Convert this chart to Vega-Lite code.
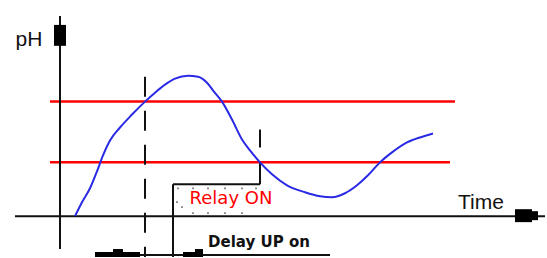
{
  "$schema": "https://vega.github.io/schema/vega-lite/v6.json",
  "width": 547,
  "height": 258,
  "padding": 0,
  "autosize": {"type": "fit", "contains": "padding"},
  "background": "white",
  "config": {"view": {"stroke": null}},
  "datasets": {
    "curve": [
      {"t": 75, "ph": 217}, {"t": 82, "ph": 203}, {"t": 90, "ph": 189}, {"t": 97, "ph": 172},
      {"t": 103, "ph": 156}, {"t": 110, "ph": 141}, {"t": 120, "ph": 128}, {"t": 132, "ph": 115},
      {"t": 145, "ph": 102}, {"t": 155, "ph": 93}, {"t": 165, "ph": 85}, {"t": 175, "ph": 79},
      {"t": 188, "ph": 76}, {"t": 198, "ph": 77}, {"t": 207, "ph": 83}, {"t": 214, "ph": 92},
      {"t": 222, "ph": 102}, {"t": 232, "ph": 120}, {"t": 242, "ph": 140}, {"t": 250, "ph": 151},
      {"t": 260, "ph": 163}, {"t": 272, "ph": 175}, {"t": 287, "ph": 186}, {"t": 305, "ph": 193},
      {"t": 320, "ph": 197}, {"t": 332, "ph": 198}, {"t": 345, "ph": 194}, {"t": 357, "ph": 186},
      {"t": 368, "ph": 176}, {"t": 380, "ph": 163}, {"t": 392, "ph": 153}, {"t": 407, "ph": 143},
      {"t": 420, "ph": 138}, {"t": 433, "ph": 134}
    ],
    "red": [
      {"x": 50, "x2": 455, "y": 102, "y2": 102},
      {"x": 50, "x2": 450, "y": 163, "y2": 163}
    ],
    "black": [
      {"x": 60, "x2": 60, "y": 16, "y2": 250},
      {"x": 15, "x2": 545, "y": 217, "y2": 217},
      {"x": 260, "x2": 260, "y": 130, "y2": 148},
      {"x": 260, "x2": 260, "y": 163, "y2": 185},
      {"x": 173, "x2": 260, "y": 185, "y2": 185},
      {"x": 173, "x2": 173, "y": 185, "y2": 258},
      {"x": 95, "x2": 330, "y": 256, "y2": 256}
    ],
    "dashed": [
      {"x": 145, "x2": 145, "y": 77, "y2": 258}
    ],
    "blocks": [
      {"x": 54, "x2": 66, "y": 25, "y2": 46},
      {"x": 515, "x2": 532, "y": 210, "y2": 223},
      {"x": 532, "x2": 538, "y": 212, "y2": 221},
      {"x": 95, "x2": 140, "y": 253, "y2": 258},
      {"x": 113, "x2": 123, "y": 250, "y2": 258},
      {"x": 183, "x2": 203, "y": 253, "y2": 258},
      {"x": 195, "x2": 203, "y": 250, "y2": 258}
    ],
    "dots": [
      {"x": 178, "y": 189}, {"x": 193, "y": 189}, {"x": 208, "y": 189}, {"x": 225, "y": 189},
      {"x": 242, "y": 189}, {"x": 256, "y": 189},
      {"x": 193, "y": 214}, {"x": 208, "y": 214}, {"x": 225, "y": 214}, {"x": 242, "y": 214},
      {"x": 177, "y": 203}, {"x": 182, "y": 208}
    ],
    "labels": [
      {"x": 29, "y": 40, "text": "pH"},
      {"x": 481, "y": 204, "text": "Time"}
    ]
  },
  "encoding": {},
  "layer": [
    {
      "data": {"name": "red"},
      "mark": {"type": "rule", "color": "#ff0000", "strokeWidth": 2.5},
      "encoding": {
        "x": {"field": "x", "type": "quantitative", "scale": {"domain": [0, 547], "nice": false, "zero": false}, "axis": null},
        "x2": {"field": "x2"},
        "y": {"field": "y", "type": "quantitative", "scale": {"domain": [0, 258], "reverse": true, "nice": false, "zero": false}, "axis": null},
        "y2": {"field": "y2"}
      }
    },
    {
      "data": {"name": "black"},
      "mark": {"type": "rule", "color": "#111111", "strokeWidth": 2},
      "encoding": {
        "x": {"field": "x", "type": "quantitative"},
        "x2": {"field": "x2"},
        "y": {"field": "y", "type": "quantitative"},
        "y2": {"field": "y2"}
      }
    },
    {
      "data": {"name": "dashed"},
      "mark": {"type": "rule", "color": "#111111", "strokeWidth": 2, "strokeDash": [20, 14]},
      "encoding": {
        "x": {"field": "x", "type": "quantitative"},
        "x2": {"field": "x2"},
        "y": {"field": "y", "type": "quantitative"},
        "y2": {"field": "y2"}
      }
    },
    {
      "data": {"name": "curve"},
      "mark": {"type": "line", "color": "#2a2ae6", "strokeWidth": 2, "interpolate": "monotone"},
      "encoding": {
        "x": {"field": "t", "type": "quantitative"},
        "y": {"field": "ph", "type": "quantitative"}
      }
    },
    {
      "data": {"name": "blocks"},
      "mark": {"type": "rect", "color": "#000000"},
      "encoding": {
        "x": {"field": "x", "type": "quantitative"},
        "x2": {"field": "x2"},
        "y": {"field": "y", "type": "quantitative"},
        "y2": {"field": "y2"}
      }
    },
    {
      "data": {"name": "dots"},
      "mark": {"type": "square", "color": "#555555", "size": 3, "opacity": 0.8},
      "encoding": {
        "x": {"field": "x", "type": "quantitative"},
        "y": {"field": "y", "type": "quantitative"}
      }
    },
    {
      "data": {"name": "labels"},
      "mark": {"type": "text", "font": "Liberation Sans", "fontSize": 21, "color": "#111111", "align": "center", "baseline": "middle"},
      "encoding": {
        "x": {"field": "x", "type": "quantitative"},
        "y": {"field": "y", "type": "quantitative"},
        "text": {"field": "text"}
      }
    },
    {
      "data": {"values": [{"x": 231, "y": 200, "text": "Relay ON"}]},
      "mark": {"type": "text", "font": "DejaVu Sans", "fontSize": 18, "color": "#ff0000", "align": "center", "baseline": "middle"},
      "encoding": {
        "x": {"field": "x", "type": "quantitative"},
        "y": {"field": "y", "type": "quantitative"},
        "text": {"field": "text"}
      }
    },
    {
      "data": {"values": [{"x": 259, "y": 243, "text": "Delay UP on"}]},
      "mark": {"type": "text", "font": "DejaVu Sans", "fontSize": 15, "fontWeight": "bold", "color": "#111111", "align": "center", "baseline": "middle"},
      "encoding": {
        "x": {"field": "x", "type": "quantitative"},
        "y": {"field": "y", "type": "quantitative"},
        "text": {"field": "text"}
      }
    }
  ]
}
